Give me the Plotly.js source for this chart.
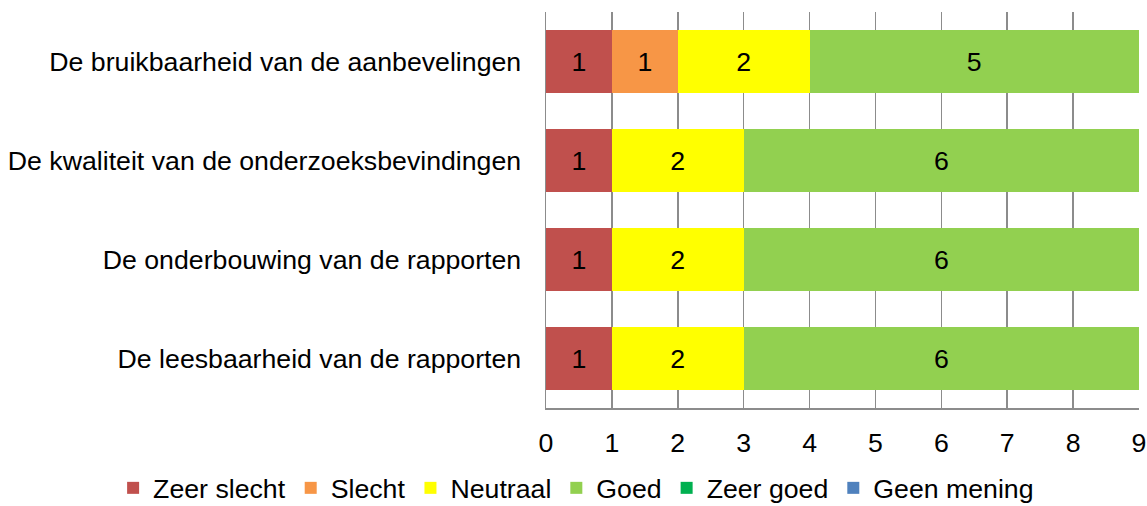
<!DOCTYPE html>
<html>
<head>
<meta charset="utf-8">
<script src="https://cdn.plot.ly/plotly-3.0.1.min.js"></script>
<style>html,body{margin:0;padding:0;background:#fff;}#chart{width:1147px;height:506px;}</style>
</head>
<body>
<div id="chart"></div>
<script>
const categories = [
  "De bruikbaarheid van de aanbevelingen",
  "De kwaliteit van de onderzoeksbevindingen",
  "De onderbouwing van de rapporten",
  "De leesbaarheid van de rapporten"
];
const seriesNames = ["Zeer slecht", "Slecht", "Neutraal", "Goed", "Zeer goed", "Geen mening"];
const zeerSlecht = [1, 1, 1, 1];
const slecht = [1, 0, 0, 0];
const neutraal = [2, 2, 2, 2];
const goed = [5, 6, 6, 6];
const zeerGoed = [0, 0, 0, 0];
const geenMening = [0, 0, 0, 0];
const seriesValues = [zeerSlecht, slecht, neutraal, goed, zeerGoed, geenMening];
const seriesColors = ["#C0504D", "#F79646", "#FFFF00", "#92D050", "#00B050", "#4F81BD"];
const xTicks = [0, 1, 2, 3, 4, 5, 6, 7, 8, 9];

const font = "Liberation Sans, Arial, sans-serif";
const fs = 26.7;
const traces = seriesNames.map((name, i) => ({
  type: "bar",
  orientation: "h",
  name: name,
  y: categories,
  x: seriesValues[i],
  marker: {color: seriesColors[i], line: {width: 0}},
  text: seriesValues[i].map(v => v ? String(v) : ""),
  textposition: "inside",
  insidetextanchor: "middle",
  constraintext: "none",
  textfont: {family: font, size: fs, color: "#000"},
  hoverinfo: "x+name"
}));

const layout = {
  width: 1147, height: 506,
  margin: {l: 546, r: 8, t: 12, b: 98, autoexpand: false},
  barmode: "stack",
  bargap: 0.36,
  paper_bgcolor: "#fff",
  plot_bgcolor: "#fff",
  font: {family: font, size: fs, color: "#000"},
  xaxis: {
    range: [0, 9],
    tickvals: xTicks,
    ticktext: xTicks.map(String),
    showgrid: true,
    gridcolor: "#8C8C8C",
    gridwidth: 1.5,
    showline: true,
    linecolor: "#8C8C8C",
    linewidth: 1.5,
    zeroline: false,
    ticks: "",
    ticklabelstandoff: 10,
    tickfont: {family: font, size: fs, color: "#000"},
    automargin: false,
    fixedrange: true
  },
  yaxis: {
    autorange: "reversed",
    showline: true,
    linecolor: "#8C8C8C",
    linewidth: 1.5,
    showgrid: false,
    ticks: "",
    ticklabelstandoff: 18,
    tickfont: {family: font, size: fs, color: "#000"},
    automargin: false,
    fixedrange: true
  },
  showlegend: true,
  legend: {
    orientation: "h",
    xref: "paper", yref: "paper",
    x: -0.73, xanchor: "left",
    y: -0.202, yanchor: "middle",
    font: {family: font, size: fs, color: "#000"},
    traceorder: "normal",
    itemwidth: 30,
    tracegroupgap: 0
  }
};

Plotly.newPlot("chart", traces, layout, {displayModeBar: false, staticPlot: true});
</script>
</body>
</html>
